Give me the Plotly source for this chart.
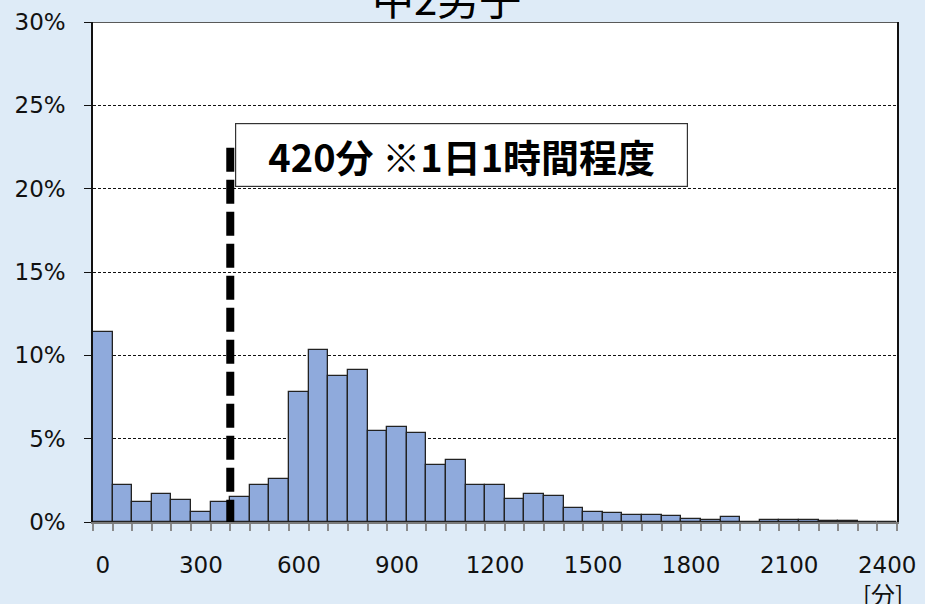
import plotly.graph_objects as go

# bins (minutes per week), lower edge of each 60-minute bin
bins = [i * 60 for i in range(41)]
# share of students (%) in each bin
shares = [11.4, 2.2, 1.2, 1.7, 1.3, 0.6, 1.2, 1.5, 2.2, 2.6,
          7.8, 10.3, 8.75, 9.1, 5.45, 5.7, 5.35, 3.4, 3.7, 2.2,
          2.25, 1.4, 1.7, 1.55, 0.85, 0.6, 0.55, 0.45, 0.4, 0.38,
          0.2, 0.14, 0.28, 0.0, 0.1, 0.14, 0.14, 0.06, 0.06, 0.0, 0.0]
x_tick_vals = [0, 300, 600, 900, 1200, 1500, 1800, 2100, 2400]
x_tick_text = ["0", "300", "600", "900", "1200", "1500", "1800", "2100", "2400"]
y_tick_vals = [0, 5, 10, 15, 20, 25, 30]
y_tick_text = ["0%", "5%", "10%", "15%", "20%", "25%", "30%"]
marker_line_x = 390   # left edge of the 420-minute bin
marker_line_top = 22.45
title_text = "中2男子"
note_text = "420分 ※1日1時間程度"
unit_text = "[分]"

BG = "#deebf7"
tick_font = dict(family="DejaVu Sans", size=23, color="#111111")
cjk = "Noto Sans CJK JP"

fig = go.Figure()
fig.add_trace(go.Bar(
    x=bins, y=shares, width=60,
    marker=dict(color="#8faadc", line=dict(color="#222222", width=1.3)),
    hoverinfo="x+y",
))

fig.update_layout(
    width=925, height=604,
    margin=dict(l=93, r=28, t=22, b=82, autoexpand=False),
    paper_bgcolor=BG,
    plot_bgcolor="#ffffff",
    showlegend=False,
    bargap=0,
    xaxis=dict(
        range=[-30, 2430],
        tickmode="array", tickvals=x_tick_vals, ticktext=x_tick_text,
        ticks="", showgrid=False, zeroline=False,
        showline=True, linecolor="#7a7a7a", linewidth=2,
        tickfont=tick_font, ticklabelstandoff=21,
        minor=dict(tick0=-30, dtick=60, ticks="outside", ticklen=7,
                   tickcolor="#8a8a8a", tickwidth=1.5, showgrid=False),
    ),
    yaxis=dict(
        range=[0, 30], tickmode="array", tickvals=y_tick_vals,
        ticktext=y_tick_text,
        ticks="outside", ticklen=7, tickcolor="#111111", tickwidth=1,
        showline=True, linecolor="#111111", linewidth=1.5, mirror=True,
        showgrid=True, gridcolor="#111111", gridwidth=1, griddash="3px,2px",
        zeroline=False, tickfont=tick_font, ticklabelstandoff=14,
    ),
)

# top border
fig.add_shape(type="line", xref="paper", yref="y", x0=0, x1=1, y0=30, y1=30,
              line=dict(color="#222222", width=1.5))

# marker dashed line
fig.add_shape(type="line", xref="x", yref="y",
              x0=marker_line_x, x1=marker_line_x, y0=marker_line_top, y1=0,
              line=dict(color="#000000", width=8, dash="24px,8px"))

# note box
fig.add_annotation(xref="paper", yref="paper", x=0.4583, y=0.734,
                   xanchor="center", yanchor="middle",
                   text="<b>" + note_text + "</b>", showarrow=False,
                   width=449, height=60, align="center", valign="middle",
                   bgcolor="#ffffff", bordercolor="#333333", borderwidth=1.2,
                   font=dict(family=cjk, size=38, color="#000000"))

# title (partly cut off at top)
fig.add_annotation(xref="paper", yref="paper", x=0.44, y=1.05,
                   text=title_text, showarrow=False, xanchor="center",
                   yanchor="middle",
                   font=dict(family=cjk, size=42, color="#000000"))

# unit label
fig.add_annotation(xref="paper", yref="paper", x=0.983, y=-0.142,
                   text=unit_text, showarrow=False, xanchor="center",
                   yanchor="middle",
                   font=dict(family=cjk, size=24, color="#111111"))

fig.write_html(
    "out.html",
    config={"displayModeBar": False},
    post_script=(
        "document.body.style.margin='0';"
        "document.body.style.background='" + BG + "';"
        "document.documentElement.style.overflow='hidden';"
    ),
)
